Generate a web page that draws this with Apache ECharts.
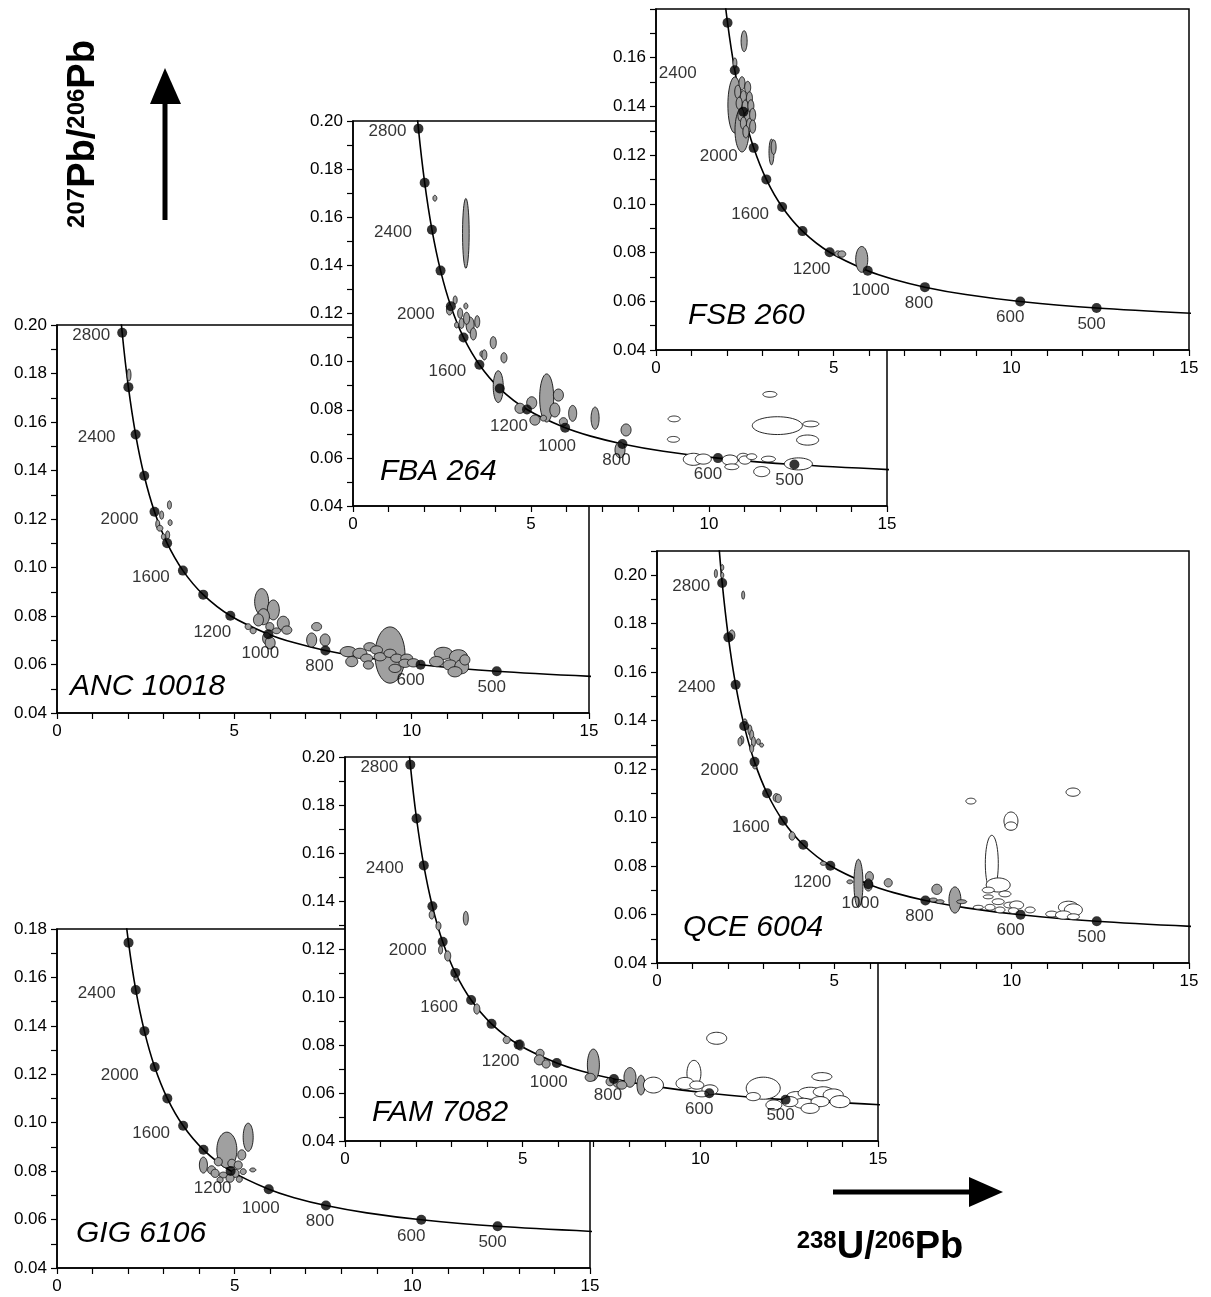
<!DOCTYPE html>
<html><head><meta charset="utf-8">
<script src="https://cdn.jsdelivr.net/npm/echarts@6/dist/echarts.min.js"></script>
<style>html,body{margin:0;padding:0;background:#fff}#c{width:1211px;height:1297px}</style>
</head><body><div id="c"></div>
<script>
// ---------------- DATA ----------------
// Concordia curve (Tera-Wasserburg): age (Ma), 238U/206Pb, 207Pb/206Pb
const CONCORDIA_AGES = [400, 500, 600, 700, 800, 900, 1000, 1200, 1400, 1600, 1800, 2000, 2200, 2400, 2600, 2800, 3000];
const CONCORDIA_X = [15.621, 12.399, 10.252, 8.718, 7.568, 6.674, 5.959, 4.887, 4.123, 3.550, 3.105, 2.749, 2.459, 2.217, 2.013, 1.838, 1.687];
const CONCORDIA_Y = [0.05470, 0.05722, 0.05990, 0.06276, 0.06580, 0.06904, 0.07250, 0.08011, 0.08881, 0.09872, 0.11004, 0.12299, 0.13782, 0.15483, 0.17437, 0.19682, 0.22266];
// Age marks (black dots)
const DOT_AGES = [500, 600, 800, 1000, 1200, 1400, 1600, 1800, 2000, 2200, 2400, 2600, 2800];
const DOT_X = [12.399, 10.252, 7.568, 5.959, 4.887, 4.123, 3.550, 3.105, 2.749, 2.459, 2.217, 2.013, 1.838];
const DOT_Y = [0.05722, 0.05990, 0.06580, 0.07250, 0.08011, 0.08881, 0.09872, 0.11004, 0.12299, 0.13782, 0.15483, 0.17437, 0.19682];
// Labelled ages
const LABEL_AGES = ['2800', '2400', '2000', '1600', '1200', '1000', '800', '600', '500'];
// Tick labels
const X_TICK_LABELS = ['0', '5', '10', '15'];
const Y_TICK_LABELS = ['0.04', '0.06', '0.08', '0.10', '0.12', '0.14', '0.16', '0.18', '0.20'];
const SAMPLE_NAMES = ['FSB 260', 'FBA 264', 'ANC 10018', 'QCE 6004', 'FAM 7082', 'GIG 6106'];

// Ellipses: [238U/206Pb, 207Pb/206Pb, half-width x, half-height y]
const FSB_GREY = [
  [2.48, 0.1668, 0.085, 0.0043], [2.22, 0.1578, 0.056, 0.0021],
  [2.22, 0.1406, 0.197, 0.0115], [2.42, 0.1303, 0.197, 0.0090],
  [2.42, 0.1495, 0.085, 0.0027], [2.58, 0.1478, 0.085, 0.0025], [2.30, 0.1460, 0.085, 0.0027], [2.46, 0.1440, 0.085, 0.0025],
  [2.63, 0.1433, 0.085, 0.0027], [2.34, 0.1413, 0.085, 0.0025], [2.51, 0.1399, 0.085, 0.0027], [2.67, 0.1402, 0.085, 0.0025],
  [2.39, 0.1365, 0.085, 0.0027], [2.58, 0.1358, 0.085, 0.0025], [2.72, 0.1365, 0.085, 0.0027], [2.46, 0.1331, 0.085, 0.0025],
  [2.63, 0.1324, 0.085, 0.0027], [2.53, 0.1296, 0.085, 0.0025], [2.72, 0.1317, 0.085, 0.0027],
  [3.25, 0.1213, 0.070, 0.0053], [3.31, 0.1233, 0.070, 0.0030],
  [5.12, 0.0795, 0.090, 0.0012], [5.23, 0.0794, 0.110, 0.0013], [5.79, 0.0772, 0.170, 0.0053]
];
const FSB_OPEN = [];
const FBA_GREY = [
  [2.30, 0.1679, 0.055, 0.0012], [3.17, 0.1533, 0.093, 0.0145],
  [2.71, 0.1215, 0.085, 0.0021], [2.87, 0.1256, 0.056, 0.0017], [3.17, 0.1231, 0.056, 0.0012], [3.01, 0.1201, 0.070, 0.0021],
  [2.91, 0.1152, 0.056, 0.0012], [3.05, 0.1159, 0.070, 0.0021], [3.29, 0.1152, 0.113, 0.0033], [3.49, 0.1166, 0.070, 0.0025],
  [3.38, 0.1115, 0.085, 0.0025], [3.19, 0.1180, 0.085, 0.0025],
  [3.94, 0.1079, 0.085, 0.0025], [3.62, 0.1032, 0.056, 0.0012], [3.69, 0.1028, 0.070, 0.0021], [4.24, 0.1016, 0.085, 0.0021],
  [4.08, 0.0896, 0.141, 0.0066],
  [5.44, 0.0849, 0.197, 0.0100], [4.69, 0.0806, 0.141, 0.0021], [5.02, 0.0829, 0.141, 0.0025], [5.77, 0.0861, 0.141, 0.0025],
  [5.67, 0.0799, 0.141, 0.0029], [6.17, 0.0785, 0.113, 0.0033], [5.11, 0.0757, 0.141, 0.0021], [5.91, 0.0750, 0.113, 0.0017],
  [5.35, 0.0765, 0.085, 0.0012], [6.80, 0.0765, 0.113, 0.0046], [7.67, 0.0716, 0.141, 0.0025], [7.50, 0.0633, 0.141, 0.0033]
];
const FBA_OPEN = [
  [9.02, 0.0762, 0.169, 0.0012], [9.00, 0.0677, 0.169, 0.0012], [11.71, 0.0864, 0.197, 0.0012], [11.92, 0.0734, 0.704, 0.0037],
  [12.86, 0.0741, 0.225, 0.0012], [12.77, 0.0674, 0.310, 0.0021], [9.56, 0.0594, 0.282, 0.0025], [9.84, 0.0595, 0.225, 0.0021],
  [10.59, 0.0591, 0.225, 0.0021], [10.96, 0.0602, 0.169, 0.0017], [11.01, 0.0591, 0.169, 0.0017], [10.64, 0.0563, 0.197, 0.0012],
  [11.67, 0.0595, 0.197, 0.0012], [11.48, 0.0543, 0.225, 0.0021], [12.51, 0.0575, 0.394, 0.0025], [11.20, 0.0605, 0.141, 0.0012]
];
const ANC_GREY = [
  [2.03, 0.1794, 0.056, 0.0025],
  [3.17, 0.1258, 0.056, 0.0017], [2.95, 0.1216, 0.056, 0.0017], [3.19, 0.1185, 0.056, 0.0012], [2.84, 0.1179, 0.056, 0.0017],
  [2.90, 0.1162, 0.085, 0.0012], [3.12, 0.1134, 0.056, 0.0017], [3.00, 0.1127, 0.056, 0.0012],
  [5.77, 0.0859, 0.197, 0.0054], [6.10, 0.0825, 0.169, 0.0041], [5.82, 0.0797, 0.169, 0.0033], [6.38, 0.0770, 0.169, 0.0029],
  [5.68, 0.0784, 0.141, 0.0025], [6.00, 0.0756, 0.113, 0.0017], [6.19, 0.0739, 0.113, 0.0012], [6.48, 0.0742, 0.141, 0.0017],
  [5.39, 0.0756, 0.085, 0.0012], [5.53, 0.0739, 0.085, 0.0012], [5.91, 0.0708, 0.113, 0.0025], [6.01, 0.0689, 0.141, 0.0025],
  [7.32, 0.0756, 0.141, 0.0017], [7.18, 0.0701, 0.141, 0.0029], [7.56, 0.0701, 0.141, 0.0025],
  [9.39, 0.0639, 0.423, 0.0116],
  [8.21, 0.0653, 0.225, 0.0021], [8.54, 0.0646, 0.197, 0.0021], [8.82, 0.0673, 0.169, 0.0017], [8.31, 0.0612, 0.169, 0.0021],
  [8.73, 0.0626, 0.169, 0.0017], [9.01, 0.0660, 0.169, 0.0017], [9.11, 0.0632, 0.169, 0.0017], [9.39, 0.0646, 0.169, 0.0017],
  [9.58, 0.0626, 0.169, 0.0017], [9.86, 0.0626, 0.169, 0.0017], [9.81, 0.0605, 0.169, 0.0017], [8.78, 0.0598, 0.141, 0.0017],
  [9.53, 0.0584, 0.169, 0.0017], [10.05, 0.0607, 0.169, 0.0017],
  [10.89, 0.0646, 0.254, 0.0025], [11.32, 0.0632, 0.254, 0.0029], [10.70, 0.0612, 0.197, 0.0021], [11.08, 0.0598, 0.197, 0.0021],
  [11.41, 0.0591, 0.197, 0.0029], [11.22, 0.0570, 0.197, 0.0021], [11.50, 0.0619, 0.141, 0.0021]
];
const ANC_OPEN = [];
const QCE_GREY = [
  [1.66, 0.2007, 0.042, 0.0017], [1.84, 0.2032, 0.042, 0.0012], [1.84, 0.2000, 0.042, 0.0012], [2.43, 0.1918, 0.042, 0.0017],
  [2.11, 0.1753, 0.085, 0.0021],
  [2.48, 0.1395, 0.056, 0.0012], [2.62, 0.1361, 0.056, 0.0021], [2.67, 0.1340, 0.056, 0.0021], [2.72, 0.1313, 0.056, 0.0021],
  [2.39, 0.1320, 0.056, 0.0017], [2.34, 0.1313, 0.056, 0.0017], [2.86, 0.1313, 0.056, 0.0012], [2.95, 0.1299, 0.056, 0.0008],
  [2.67, 0.1285, 0.056, 0.0017], [2.76, 0.1209, 0.056, 0.0008],
  [3.36, 0.1082, 0.085, 0.0017], [3.42, 0.1079, 0.085, 0.0017], [3.81, 0.0924, 0.085, 0.0017], [4.69, 0.0811, 0.085, 0.0008],
  [5.68, 0.0729, 0.127, 0.0099], [5.44, 0.0735, 0.085, 0.0008], [5.99, 0.0756, 0.113, 0.0021], [5.96, 0.0722, 0.113, 0.0025],
  [6.52, 0.0731, 0.113, 0.0017], [7.89, 0.0704, 0.141, 0.0021], [7.79, 0.0660, 0.113, 0.0008], [7.98, 0.0653, 0.113, 0.0008],
  [8.40, 0.0660, 0.169, 0.0054], [8.59, 0.0653, 0.141, 0.0008]
];
const QCE_OPEN = [
  [9.44, 0.0811, 0.183, 0.0116], [9.62, 0.0722, 0.338, 0.0029], [9.34, 0.0701, 0.169, 0.0012], [9.81, 0.0685, 0.169, 0.0012],
  [9.34, 0.0673, 0.141, 0.0008], [9.62, 0.0653, 0.169, 0.0012], [9.95, 0.0639, 0.169, 0.0012], [10.14, 0.0639, 0.197, 0.0017],
  [9.39, 0.0630, 0.141, 0.0012], [9.67, 0.0619, 0.141, 0.0012], [10.05, 0.0616, 0.141, 0.0012], [10.52, 0.0619, 0.141, 0.0012],
  [9.06, 0.0630, 0.141, 0.0008], [11.13, 0.0602, 0.169, 0.0012], [11.60, 0.0630, 0.282, 0.0025], [11.74, 0.0619, 0.254, 0.0025],
  [11.46, 0.0598, 0.225, 0.0017], [11.74, 0.0591, 0.169, 0.0012],
  [9.98, 0.0986, 0.197, 0.0037], [9.98, 0.0965, 0.169, 0.0017], [8.85, 0.1068, 0.141, 0.0012], [11.73, 0.1105, 0.197, 0.0017]
];
const FAM_GREY = [
  [2.44, 0.1342, 0.070, 0.0017], [3.40, 0.1328, 0.070, 0.0029], [2.63, 0.1296, 0.070, 0.0017], [2.69, 0.1196, 0.056, 0.0017],
  [2.89, 0.1171, 0.085, 0.0021], [3.12, 0.1078, 0.056, 0.0012], [3.71, 0.0950, 0.085, 0.0021], [4.55, 0.0821, 0.099, 0.0015],
  [4.93, 0.0800, 0.113, 0.0021], [5.49, 0.0765, 0.113, 0.0017], [5.47, 0.0738, 0.141, 0.0021], [5.66, 0.0721, 0.113, 0.0017],
  [6.99, 0.0717, 0.169, 0.0066], [6.90, 0.0665, 0.141, 0.0017], [7.46, 0.0647, 0.113, 0.0017], [7.69, 0.0640, 0.141, 0.0017],
  [8.02, 0.0665, 0.169, 0.0041], [7.79, 0.0633, 0.141, 0.0017], [8.33, 0.0633, 0.113, 0.0041]
];
const FAM_OPEN = [
  [8.68, 0.0633, 0.282, 0.0033], [10.46, 0.0828, 0.282, 0.0025], [9.82, 0.0682, 0.197, 0.0054], [9.57, 0.0640, 0.254, 0.0025],
  [9.90, 0.0633, 0.197, 0.0017], [10.27, 0.0613, 0.225, 0.0021], [10.04, 0.0596, 0.197, 0.0012], [11.77, 0.0620, 0.479, 0.0046],
  [11.49, 0.0585, 0.197, 0.0017], [12.07, 0.0550, 0.225, 0.0021], [13.42, 0.0668, 0.282, 0.0017], [12.71, 0.0585, 0.282, 0.0021],
  [13.09, 0.0599, 0.338, 0.0025], [13.46, 0.0605, 0.282, 0.0021], [13.74, 0.0592, 0.282, 0.0025], [12.90, 0.0557, 0.282, 0.0021],
  [13.37, 0.0564, 0.254, 0.0021], [13.93, 0.0564, 0.282, 0.0025], [12.52, 0.0564, 0.225, 0.0021], [13.09, 0.0536, 0.254, 0.0021]
];
const GIG_GREY = [
  [4.78, 0.0887, 0.282, 0.0074], [5.38, 0.0940, 0.141, 0.0058], [4.12, 0.0825, 0.113, 0.0033], [5.20, 0.0867, 0.113, 0.0021],
  [4.35, 0.0805, 0.113, 0.0017], [4.54, 0.0839, 0.113, 0.0017], [4.92, 0.0832, 0.113, 0.0017], [5.10, 0.0825, 0.113, 0.0017],
  [4.45, 0.0791, 0.113, 0.0017], [4.68, 0.0784, 0.113, 0.0012], [5.01, 0.0791, 0.113, 0.0017], [5.24, 0.0798, 0.085, 0.0012],
  [4.87, 0.0771, 0.113, 0.0017], [4.59, 0.0764, 0.085, 0.0012], [5.51, 0.0805, 0.085, 0.0008], [5.13, 0.0766, 0.085, 0.0012]
];
const GIG_OPEN = [];

// ---------------- LAYOUT / STYLE ----------------
const FONT = '"Liberation Sans", Arial, Helvetica, sans-serif';
const TICK_FONT_SIZE = 17;
const LABEL_OFFSETS = { '2800': [-31, 3], '2400': [-39, 3], '2000': [-35, 8], '1600': [-32, 7], '1200': [-18, 17],
  '1000': [-8, 19], '800': [-6, 16], '600': [-10, 16], '500': [-5, 16] };
const PANELS = [
  { name: SAMPLE_NAMES[0], grey: FSB_GREY, open: FSB_OPEN, left: 656, top: 9, width: 533, height: 341, ymax: 0.18, level: 3, hideTop: true, title: [688, 316], over: { '2400': [-57, 3], '1000': [3, 19] } },
  { name: SAMPLE_NAMES[1], grey: FBA_GREY, open: FBA_OPEN, left: 353, top: 121, width: 534, height: 385, ymax: 0.20, level: 2, title: [380, 472], over: {} },
  { name: SAMPLE_NAMES[2], grey: ANC_GREY, open: ANC_OPEN, left: 57, top: 325, width: 532, height: 388, ymax: 0.20, level: 1, title: [70, 687], over: {} },
  { name: SAMPLE_NAMES[3], grey: QCE_GREY, open: QCE_OPEN, left: 657, top: 551, width: 532, height: 412, ymax: 0.21, level: 3, title: [683, 928], over: {} },
  { name: SAMPLE_NAMES[4], grey: FAM_GREY, open: FAM_OPEN, left: 345, top: 757, width: 533, height: 384, ymax: 0.20, level: 2, title: [372, 1113], over: {} },
  { name: SAMPLE_NAMES[5], grey: GIG_GREY, open: GIG_OPEN, left: 57, top: 929, width: 533, height: 339, ymax: 0.18, level: 1, title: [76, 1234], over: {} }
];

function ellipseRenderer(fill) {
  return function (params, api) {
    const c = api.coord([api.value(0), api.value(1)]);
    const s = api.size([api.value(2), api.value(3)]);
    const pts = [];
    for (let k = 0; k < 48; k++) {
      const a = k / 48 * Math.PI * 2;
      pts.push([c[0] + s[0] * Math.cos(a), c[1] + s[1] * Math.sin(a)]);
    }
    return { type: 'polygon', shape: { points: pts }, style: { fill: fill, stroke: '#111', lineWidth: 0.9 } };
  };
}

const grids = [], xAxes = [], yAxes = [], series = [], graphics = [];
PANELS.forEach(function (p, i) {
  const z = p.level * 10;
  grids.push({ left: p.left, top: p.top, width: p.width, height: p.height, show: true, backgroundColor: '#fff',
    borderColor: '#000', borderWidth: 1.5, z: z, containLabel: false });
  xAxes.push({ gridIndex: i, type: 'value', min: 0, max: 15, interval: 1, z: z + 1,
    axisLine: { show: true, onZero: false, lineStyle: { color: '#000', width: 1.5 } },
    axisTick: { show: true, length: 6, lineStyle: { color: '#000', width: 1.2 } },
    splitLine: { show: false },
    axisLabel: { margin: 10, color: '#000', fontSize: TICK_FONT_SIZE, fontFamily: FONT, showMinLabel: true, showMaxLabel: true,
      formatter: function (v) { const s = String(Math.round(v)); return X_TICK_LABELS.indexOf(s) >= 0 ? s : ''; } } });
  yAxes.push({ gridIndex: i, type: 'value', min: 0.04, max: p.ymax, interval: 0.01, z: z + 1,
    axisLine: { show: true, onZero: false, lineStyle: { color: '#000', width: 1.5 } },
    axisTick: { show: true, length: 6, lineStyle: { color: '#000', width: 1.2 } },
    splitLine: { show: false },
    axisLabel: { margin: 10, color: '#000', fontSize: TICK_FONT_SIZE, fontFamily: FONT, showMinLabel: true, showMaxLabel: true,
      formatter: function (v) {
        const s = (Math.round(v * 100) / 100).toFixed(2);
        if (p.hideTop && Math.abs(v - p.ymax) < 1e-6) return '';
        return Y_TICK_LABELS.indexOf(s) >= 0 ? s : '';
      } } });
  series.push({ type: 'line', xAxisIndex: i, yAxisIndex: i, data: CONCORDIA_X.map(function (x, k) { return [x, CONCORDIA_Y[k]]; }),
    smooth: 0.3, symbol: 'none', lineStyle: { color: '#000', width: 1.6 }, z: z + 2, clip: true, silent: true });
  series.push({ type: 'custom', xAxisIndex: i, yAxisIndex: i, data: p.grey, renderItem: ellipseRenderer('#a0a0a0'), z: z + 3, clip: true, silent: true });
  series.push({ type: 'custom', xAxisIndex: i, yAxisIndex: i, data: p.open, renderItem: ellipseRenderer('#ffffff'), z: z + 3, clip: true, silent: true });
  series.push({ type: 'scatter', xAxisIndex: i, yAxisIndex: i, data: DOT_X.map(function (x, k) { return [x, DOT_Y[k]]; }),
    symbolSize: 10, itemStyle: { color: '#000' }, z: z + 4, clip: true, silent: true });
  const labs = LABEL_AGES.map(function (a) {
    const k = DOT_AGES.indexOf(Number(a));
    const off = p.over[a] || LABEL_OFFSETS[a];
    return { name: a, value: [DOT_X[k], DOT_Y[k]], label: { offset: off } };
  });
  series.push({ type: 'scatter', xAxisIndex: i, yAxisIndex: i, data: labs, symbolSize: 0, z: z + 5, clip: true, silent: true,
    label: { show: true, position: 'inside', formatter: '{b}', color: '#000', fontSize: TICK_FONT_SIZE, fontFamily: FONT } });
  graphics.push({ type: 'text', x: p.title[0], y: p.title[1], z: 100,
    style: { text: p.name, font: 'italic 30px ' + FONT, fill: '#000', verticalAlign: 'middle', align: 'left' } });
});

// Axis titles and arrows
const RICH = { b: { font: 'bold 38px ' + FONT, fill: '#000', verticalAlign: 'bottom' },
               s: { font: 'bold 24px ' + FONT, fill: '#000', verticalAlign: 'top' } };
graphics.push({ type: 'text', x: 84, y: 134, rotation: Math.PI / 2, z: 100,
  style: { text: '{s|207}{b|Pb/}{s|206}{b|Pb}', align: 'center', verticalAlign: 'middle', fill: '#000', rich: RICH } });
graphics.push({ type: 'rect', z: 100, shape: { x: 162.5, y: 100, width: 5, height: 120 }, style: { fill: '#000' } });
graphics.push({ type: 'polygon', z: 100, shape: { points: [[150, 104], [181, 104], [165, 68]] }, style: { fill: '#000' } });
graphics.push({ type: 'text', x: 880, y: 1248, z: 100,
  style: { text: '{s|238}{b|U/}{s|206}{b|Pb}', align: 'center', verticalAlign: 'middle', fill: '#000', rich: RICH } });
graphics.push({ type: 'rect', z: 100, shape: { x: 833, y: 1189.5, width: 140, height: 5 }, style: { fill: '#000' } });
graphics.push({ type: 'polygon', z: 100, shape: { points: [[969, 1177], [969, 1207], [1003, 1192]] }, style: { fill: '#000' } });

const chart = echarts.init(document.getElementById('c'), null, { renderer: 'canvas' });
chart.setOption({
  animation: false,
  backgroundColor: '#fff',
  grid: grids, xAxis: xAxes, yAxis: yAxes, series: series, graphic: graphics
});
</script></body></html>
